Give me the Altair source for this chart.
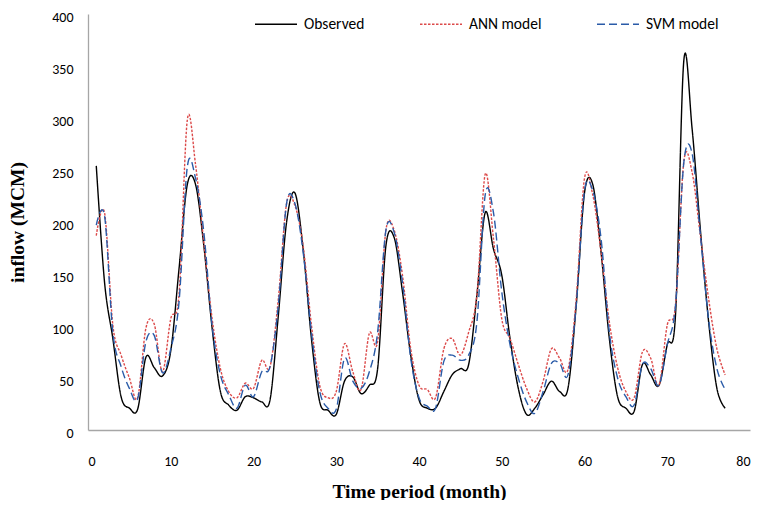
import altair as alt
import pandas as pd

months = list(range(1, 78))

observed = [254, 142, 88, 32, 21, 20, 70, 60, 52, 76, 155, 236, 236, 177, 98, 37, 24, 19, 32, 31,
            27, 29, 110, 200, 228, 174, 88, 27, 19, 15, 47, 51, 35, 43, 59, 177, 185, 133, 72, 29,
            21, 21, 37, 53, 59, 63, 130, 209, 174, 149, 88, 40, 15, 21, 34, 47, 37, 40, 120, 228,
            236, 171, 88, 32, 21, 18, 63, 53, 43, 82, 111, 355, 290, 193, 104, 40, 21]

ann = [187, 209, 101, 72, 50, 31, 98, 102, 56, 107, 130, 298, 255, 180, 107, 59, 37, 31, 45, 40,
       67, 61, 126, 218, 216, 177, 101, 43, 31, 37, 83, 56, 39, 93, 85, 192, 192, 149, 78, 43,
       39, 31, 78, 88, 72, 94, 130, 246, 184, 107, 88, 63, 40, 27, 47, 78, 69, 58, 126, 242,
       226, 171, 104, 60, 37, 31, 75, 69, 43, 101, 120, 258, 248, 187, 126, 78, 53]

svm = [197, 206, 94, 61, 40, 30, 85, 91, 55, 78, 123, 253, 242, 190, 100, 53, 34, 21, 43, 32,
       56, 61, 120, 218, 218, 171, 94, 37, 21, 20, 69, 47, 40, 56, 94, 192, 190, 142, 69, 31,
       23, 21, 66, 72, 67, 72, 104, 226, 209, 133, 82, 50, 27, 16, 37, 64, 64, 53, 120, 230,
       230, 184, 94, 50, 32, 24, 63, 59, 43, 82, 120, 257, 266, 188, 106, 59, 39]

series_names = ["Observed", "ANN model", "SVM model"]
series_colors = ["#000000", "#dc4a4a", "#2a5ba8"]
series_dashes = [[1, 0], [2.5, 1.5], [8, 4]]

x_ticks = [0, 10, 20, 30, 40, 50, 60, 70, 80]
y_ticks = [0, 50, 100, 150, 200, 250, 300, 350, 400]

rows = []
for name, vals in zip(series_names, [observed, ann, svm]):
    for m, v in zip(months, vals):
        rows.append({"month": m, "inflow": v, "series": name})
df = pd.DataFrame(rows)

label_font = "Carlito, Calibri, Lato, sans-serif"
title_font = "Liberation Serif"

leg = alt.Legend(
    title=None,
    orient="none",
    legendX=166,
    legendY=-12,
    direction="horizontal",
    symbolType="stroke",
    symbolSize=1764,
    symbolStrokeWidth=1.5,
    labelFont=label_font,
    labelFontSize=15.5,
    labelColor="#000000",
    labelOffset=6,
    columnPadding=52,
)

chart = alt.Chart(df).mark_line(interpolate="cardinal", strokeWidth=1.4).encode(
    x=alt.X("month:Q",
            scale=alt.Scale(domain=[0, 80], nice=False, zero=False),
            axis=alt.Axis(values=x_ticks, title="Time period (month)", labelPadding=24,
                          titlePadding=14)),
    y=alt.Y("inflow:Q",
            scale=alt.Scale(domain=[0, 400], nice=False),
            axis=alt.Axis(values=y_ticks, title="inflow (MCM)", labelPadding=15,
                          labelOffset=3, titlePadding=24)),
    color=alt.Color("series:N", scale=alt.Scale(domain=series_names, range=series_colors), legend=leg),
    strokeDash=alt.StrokeDash("series:N", scale=alt.Scale(domain=series_names, range=series_dashes), legend=leg),
    order=alt.Order("month:Q"),
).properties(
    width=662,
    height=416,
    autosize=alt.AutoSizeParams(type="none"),
    padding={"left": 80, "top": 6, "right": 5, "bottom": 70},
).configure_view(
    stroke=None
).configure_axis(
    grid=False,
    ticks=False,
    domainColor="#a6a6a6",
    domainWidth=1.3,
    labelFont=label_font,
    labelFontSize=14,
    labelColor="#000000",
    titleFont=title_font,
    titleFontSize=19.5,
    titleFontWeight="bold",
    titleColor="#000000",
)

chart.save("out.html", embed_options={"renderer": "svg", "actions": False})
